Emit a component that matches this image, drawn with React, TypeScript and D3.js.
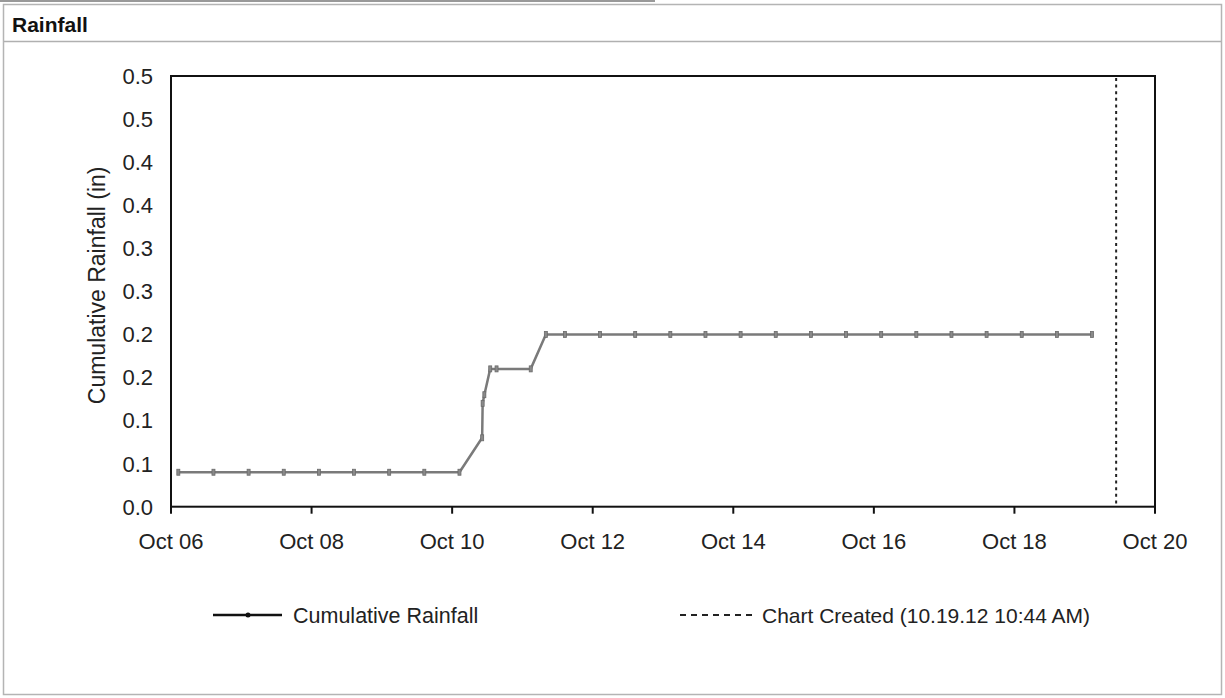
import React from "react";
import * as d3 from "d3";

const obsTimes: string[] = [
  "2012-10-06T02:30", "2012-10-06T14:30", "2012-10-07T02:30", "2012-10-07T14:30",
  "2012-10-08T02:30", "2012-10-08T14:30", "2012-10-09T02:30", "2012-10-09T14:30",
  "2012-10-10T02:30", "2012-10-10T10:15", "2012-10-10T10:25", "2012-10-10T11:00",
  "2012-10-10T13:00", "2012-10-10T15:10", "2012-10-11T02:50", "2012-10-11T08:00",
  "2012-10-11T14:30", "2012-10-12T02:30", "2012-10-12T14:30", "2012-10-13T02:30",
  "2012-10-13T14:30", "2012-10-14T02:30", "2012-10-14T14:30", "2012-10-15T02:30",
  "2012-10-15T14:30", "2012-10-16T02:30", "2012-10-16T14:30", "2012-10-17T02:30",
  "2012-10-17T14:30", "2012-10-18T02:30", "2012-10-18T14:30", "2012-10-19T02:30",
];
const cumulativeRain: number[] = [
  0.04, 0.04, 0.04, 0.04, 0.04, 0.04, 0.04, 0.04,
  0.04, 0.08, 0.12, 0.13, 0.16, 0.16, 0.16, 0.2,
  0.2, 0.2, 0.2, 0.2, 0.2, 0.2, 0.2, 0.2,
  0.2, 0.2, 0.2, 0.2, 0.2, 0.2, 0.2, 0.2,
];
const chartCreated = "2012-10-19T10:44";
const yTickValues: number[] = [0, 0.05, 0.1, 0.15, 0.2, 0.25, 0.3, 0.35, 0.4, 0.45, 0.5];
const yTickLabels: string[] = ["0.0", "0.1", "0.1", "0.2", "0.2", "0.3", "0.3", "0.4", "0.4", "0.5", "0.5"];
const xTickDates: string[] = [
  "2012-10-06T00:00", "2012-10-08T00:00", "2012-10-10T00:00", "2012-10-12T00:00",
  "2012-10-14T00:00", "2012-10-16T00:00", "2012-10-18T00:00", "2012-10-20T00:00",
];
const xTickLabels: string[] = ["Oct 06", "Oct 08", "Oct 10", "Oct 12", "Oct 14", "Oct 16", "Oct 18", "Oct 20"];
const seriesName = "Cumulative Rainfall";
const createdLabel = "Chart Created (10.19.12 10:44 AM)";

const FONT = "'Liberation Sans', Arial, sans-serif";

export default function App() {
  const W = 1225, H = 698;
  const left = 171, right = 1155, top = 76, bottom = 506.7;
  const parse = (s: string) => new Date(s);
  const x = d3.scaleTime().domain([parse(xTickDates[0]), parse(xTickDates[xTickDates.length - 1])]).range([left, right]);
  const y = d3.scaleLinear().domain([0, 0.5]).range([bottom, top]);
  const pts = obsTimes.map((t, i) => ({ t: parse(t), v: cumulativeRain[i] }));
  const line = d3.line<{ t: Date; v: number }>().x((d) => x(d.t)).y((d) => y(d.v));
  const cx = x(parse(chartCreated));

  return (
    <div style={{ position: "fixed", left: 0, top: 0, width: W, height: H, background: "#fff" }}>
      <svg width={W} height={H} style={{ display: "block" }} fontFamily={FONT}>
        <rect x={0} y={0} width={W} height={H} fill="#fff" />
        {/* outer panel */}
        <line x1={0} y1={1} x2={655} y2={1} stroke="#777" strokeWidth={1.5} />
        <rect x={3.5} y={4.5} width={1218} height={690} fill="none" stroke="#b4b4b4" strokeWidth={1.5} />
        <line x1={4} y1={41.5} x2={1221} y2={41.5} stroke="#b0b0b0" strokeWidth={1.5} />
        <text x={12} y={31.5} fontSize={21} fontWeight="bold" fill="#111">Rainfall</text>

        {/* y axis label */}
        <text
          transform={`translate(105,${(top + bottom) / 2 - 6}) rotate(-90)`}
          textAnchor="middle"
          fontSize={23}
          fill="#222"
        >
          Cumulative Rainfall (in)
        </text>

        {/* y tick labels */}
        {yTickValues.map((v, i) => (
          <text key={"yt" + i} x={153} y={y(v)} dy="0.36em" textAnchor="end" fontSize={22} fill="#222">
            {yTickLabels[i]}
          </text>
        ))}

        {/* x ticks */}
        {xTickDates.map((d, i) => (
          <g key={"xt" + i}>
            <line x1={x(parse(d))} x2={x(parse(d))} y1={bottom} y2={bottom + 7} stroke="#111" strokeWidth={2} />
            <text x={x(parse(d))} y={549} textAnchor="middle" fontSize={22} fill="#222">
              {xTickLabels[i]}
            </text>
          </g>
        ))}

        {/* chart created line */}
        <line x1={cx} x2={cx} y1={top + 2} y2={bottom} stroke="#222" strokeWidth={2} strokeDasharray="3,3.6" />

        {/* series */}
        <path d={line(pts) || ""} fill="none" stroke="#7a7a7a" strokeWidth={2.5} strokeLinejoin="round" />
        {pts.map((p, i) => (
          <rect key={"m" + i} x={x(p.t) - 1.5} y={y(p.v) - 3} width={3} height={6} fill="#8a8a8a" stroke="#6a6a6a" strokeWidth={0.8} />
        ))}

        {/* plot frame */}
        <rect x={left} y={top} width={right - left} height={bottom - top} fill="none" stroke="#111" strokeWidth={2} />

        {/* legend */}
        <line x1={213} x2={282} y1={615} y2={615} stroke="#111" strokeWidth={2.5} />
        <circle cx={248} cy={615} r={2.5} fill="#111" />
        <text x={293} y={623} fontSize={21.5} fill="#222">{seriesName}</text>
        <line x1={680} x2={752} y1={615} y2={615} stroke="#222" strokeWidth={2} strokeDasharray="6,5" />
        <text x={762} y={623} fontSize={21} fill="#222">{createdLabel}</text>
      </svg>
    </div>
  );
}
